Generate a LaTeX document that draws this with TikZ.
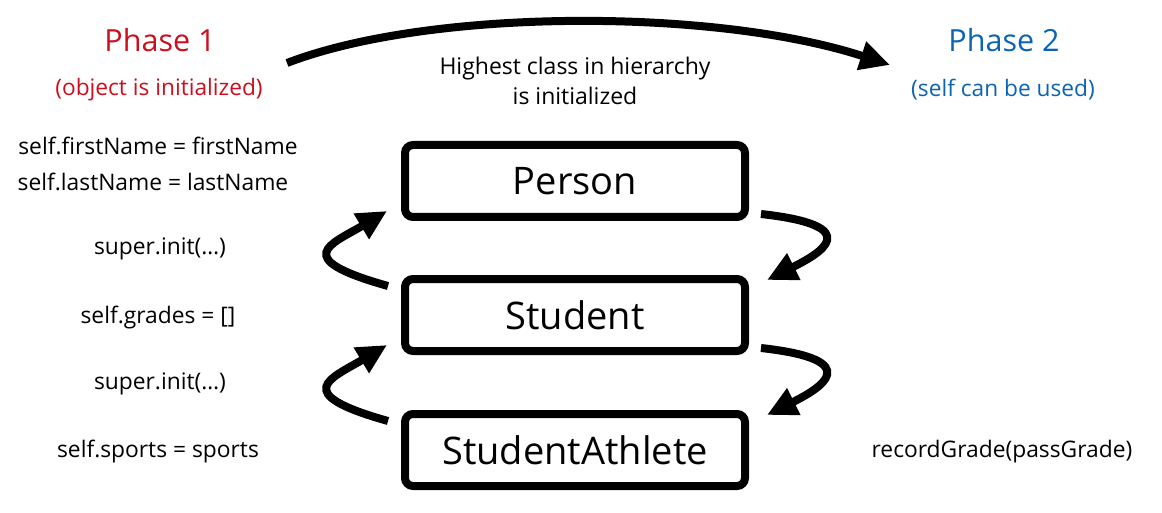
\documentclass[tikz,border=0pt]{standalone}
\usepackage{fontspec}
\setmainfont{Open Sans}
\usetikzlibrary{arrows.meta,calc}
\definecolor{phaseone}{RGB}{204,14,30}
\definecolor{phasetwo}{RGB}{10,100,180}
\tikzset{
  classbox/.style={draw=black, line width=8pt, rounded corners=8pt, minimum width=340pt, minimum height=72pt, inner sep=0pt, fill=white, font=\fontsize{38}{44}\selectfont},
  sidetext/.style={inner sep=0pt, font=\fontsize{22.8}{27}\selectfont},
  phasetitle/.style={inner sep=0pt, font=\fontsize{30.5}{36}\selectfont},
  phasesub/.style={inner sep=0pt, font=\fontsize{22.7}{27}\selectfont},
  bigarrow/.style={line width=8pt, -{Triangle[length=30pt,width=28pt]}},
}
\begin{document}
\begin{tikzpicture}[x=1pt,y=-1pt]
\useasboundingbox (0,0) rectangle (1162,513);
% phase titles
\node[phasetitle, text=phaseone] (ph1) at (160,40) {Phase 1};
\node[phasesub, text=phaseone] (ph1s) at (159,90) {(object is initialized)};
\node[phasetitle, text=phasetwo] (ph2) at (1004,40) {Phase 2};
\node[phasesub, text=phasetwo] (ph2s) at (1003,90) {(self can be used)};
% top arrow
\coordinate (topstart) at (287,63);
\coordinate (topend) at (890,65);
\draw[bigarrow] (topstart) .. controls (430,8) and (715,8) .. (topend);
\node[sidetext, align=center, font=\fontsize{23}{30}\selectfont] (hier) at (575,81) {Highest class in hierarchy\\is initialized};
% class boxes
\node[classbox] (person) at (575,181) {Person};
\node[classbox] (student) at (575,315) {Student};
\node[classbox] (athlete) at (575,450) {StudentAthlete};
% left side texts
\node[sidetext] (fn) at (158,146) {self.firstName = firstName};
\node[sidetext] (ln) at (153,182) {self.lastName = lastName};
\node[sidetext] (sup1) at (160,249) {super.init(…)};
\node[sidetext] (grades) at (158,318) {self.grades = []};
\node[sidetext] (sup2) at (160,384) {super.init(…)};
\node[sidetext] (sports) at (158,452) {self.sports = sports};
\node[sidetext] (record) at (1002,452) {recordGrade(passGrade)};
% up arrows (left)
\draw[bigarrow] ($(student.north west)+(-13,11)$) .. controls +(-100,-28) and +(-55,33) .. ($(person.south west)+(-14,-10)$);
\draw[bigarrow] ($(athlete.north west)+(-13,11)$) .. controls +(-100,-28) and +(-55,33) .. ($(student.south west)+(-14,-10)$);
% down arrows (right)
\draw[bigarrow] ($(person.south east)+(12,-7)$) .. controls +(108,12) and +(52,-26) .. ($(student.north east)+(18,5)$);
\draw[bigarrow] ($(student.south east)+(12,-7)$) .. controls +(108,12) and +(52,-26) .. ($(athlete.north east)+(18,5)$);
\end{tikzpicture}
\end{document}
